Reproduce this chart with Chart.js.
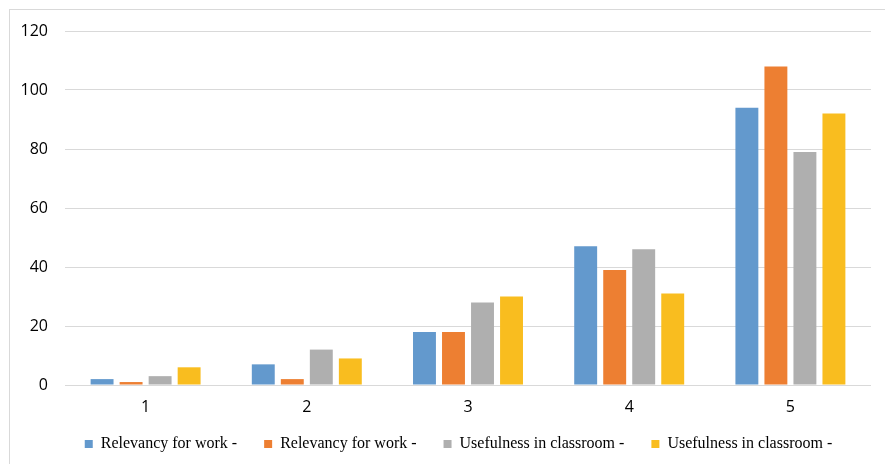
<!DOCTYPE html>
<html>
<head>
<meta charset="utf-8">
<script src="https://cdn.jsdelivr.net/npm/chart.js@4"></script>
<style>
  html, body { margin: 0; padding: 0; background: #fff; }
  #wrap { position: relative; width: 885px; height: 464px; }
  #frame { position: absolute; left: 9px; top: 9px; width: 885px; height: 460px; border: 1px solid #d9d9d9; box-sizing: border-box; }
  canvas { position: absolute; left: 0; top: 0; }
</style>
</head>
<body>
<div id="wrap">
  <div id="frame"></div>
  <canvas id="barChart" width="885" height="464"></canvas>
</div>
<script>
// categories on the x axis (rating 1..5)
var categories = ['1', '2', '3', '4', '5'];

// series values
var relevancyWorkA = [2, 7, 18, 47, 94];
var relevancyWorkB = [1, 2, 18, 39, 108];
var usefulnessClassA = [3, 12, 28, 46, 79];
var usefulnessClassB = [6, 9, 30, 31, 92];

var seriesLabels = [
    'Relevancy for work -',
    'Relevancy for work -',
    'Usefulness in classroom -',
    'Usefulness in classroom -'
];

var yTicks = [0, 20, 40, 60, 80, 100, 120];

// nudge the legend box a bit (it sits off-centre in the original)
var legendShift = {
    id: 'legendShift',
    afterLayout: function(chart) {
        var lg = chart.legend;
        lg.left += 23; lg.right += 23;
        lg.top -= 9; lg.bottom -= 9;
    }
};

var ctx = document.getElementById('barChart').getContext('2d');
var myChart = new Chart(ctx, {
    type: 'bar',
    data: {
        labels: categories,
        datasets: [{
            label: seriesLabels[0],
            data: relevancyWorkA,
            backgroundColor: '#6399cd'
        }, {
            label: seriesLabels[1],
            data: relevancyWorkB,
            backgroundColor: '#ed7f32'
        }, {
            label: seriesLabels[2],
            data: usefulnessClassA,
            backgroundColor: '#afafaf'
        }, {
            label: seriesLabels[3],
            data: usefulnessClassB,
            backgroundColor: '#f9bd1f'
        }]
    },
    plugins: [legendShift],
    options: {
        responsive: false,
        animation: false,
        devicePixelRatio: 1,
        layout: {
            padding: { top: 31, right: 14, bottom: -7, left: 0 }
        },
        datasets: {
            bar: { barPercentage: 0.79, categoryPercentage: 0.72 }
        },
        plugins: {
            tooltip: { enabled: false },
            legend: {
                position: 'bottom',
                labels: {
                    boxWidth: 8,
                    boxHeight: 8,
                    padding: 27,
                    color: '#000',
                    font: { family: '"Liberation Serif", serif', size: 16 }
                }
            }
        },
        scales: {
            x: {
                grid: { display: false, drawTicks: false },
                border: { display: false },
                ticks: {
                    color: '#000',
                    padding: 13,
                    font: { family: '"Open Sans", sans-serif', size: 16 }
                },
                afterFit: function(scale) { scale.height = 33; }
            },
            y: {
                min: 0,
                max: 120,
                border: { display: false },
                grid: { color: '#d9d9d9', lineWidth: 1, drawTicks: false },
                afterBuildTicks: function(scale) {
                    scale.ticks = yTicks.map(function(v) { return { value: v }; });
                },
                ticks: {
                    color: '#000',
                    padding: 17,
                    font: { family: '"Open Sans", sans-serif', size: 16 }
                },
                afterFit: function(scale) { scale.width = 65; }
            }
        }
    }
});
</script>
</body>
</html>
